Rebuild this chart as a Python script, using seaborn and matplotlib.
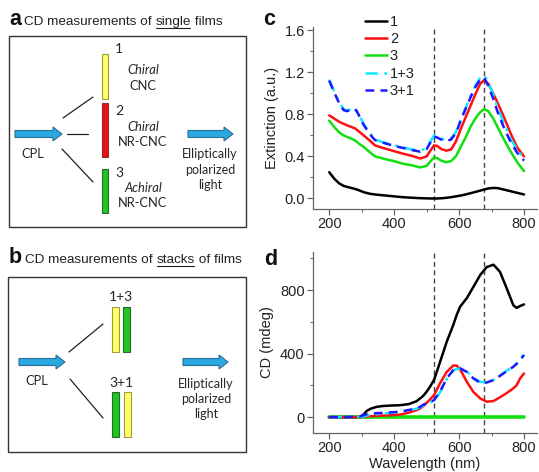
import numpy as np
import pandas as pd
import matplotlib
matplotlib.use("Agg")
import matplotlib.pyplot as plt
import seaborn as sns
from matplotlib.patches import Rectangle, FancyArrow
from matplotlib.ticker import MultipleLocator

# ---------------- data ----------------
c_wl = [200, 215, 230, 244, 255, 268, 280, 290, 306, 325, 341, 360, 377, 400, 428, 455, 480, 500, 515,
        523, 532, 545, 560, 575, 590, 605, 620, 635, 650, 665, 677, 690, 705, 720, 740, 760, 780, 800]
c_1 = [0.25, 0.19, 0.145, 0.12, 0.11, 0.10, 0.09, 0.08, 0.06, 0.045, 0.038, 0.032, 0.027, 0.02, 0.012,
       0.007, 0.003, 0.001, 0.0, 0.0, 0.0, 0.002, 0.006, 0.012, 0.02, 0.028, 0.038, 0.05, 0.062, 0.075,
       0.085, 0.095, 0.1, 0.098, 0.083, 0.068, 0.053, 0.038]
c_2 = [0.79, 0.76, 0.73, 0.71, 0.695, 0.68, 0.665, 0.64, 0.60, 0.55, 0.505, 0.485, 0.47, 0.45, 0.425,
       0.405, 0.38, 0.40, 0.47, 0.505, 0.50, 0.47, 0.455, 0.465, 0.54, 0.66, 0.77, 0.88, 0.99, 1.09,
       1.125, 1.09, 1.0, 0.90, 0.76, 0.61, 0.48, 0.40]
c_3 = [0.74, 0.68, 0.63, 0.60, 0.585, 0.57, 0.55, 0.525, 0.49, 0.44, 0.40, 0.385, 0.37, 0.355, 0.33,
       0.315, 0.295, 0.31, 0.365, 0.39, 0.385, 0.36, 0.345, 0.355, 0.40, 0.49, 0.58, 0.68, 0.76, 0.82,
       0.85, 0.83, 0.76, 0.67, 0.55, 0.44, 0.34, 0.26]
c_13 = [1.13, 1.02, 0.92, 0.85, 0.835, 0.85, 0.855, 0.81, 0.71, 0.62, 0.56, 0.54, 0.525, 0.505, 0.485,
        0.465, 0.45, 0.48, 0.56, 0.60, 0.595, 0.57, 0.555, 0.57, 0.63, 0.75, 0.86, 0.97, 1.07, 1.15,
        1.17, 1.11, 0.99, 0.85, 0.70, 0.56, 0.46, 0.38]
c_31 = [1.12, 1.01, 0.91, 0.84, 0.83, 0.845, 0.85, 0.80, 0.70, 0.61, 0.555, 0.535, 0.52, 0.50, 0.48,
        0.46, 0.445, 0.47, 0.55, 0.585, 0.58, 0.56, 0.545, 0.56, 0.62, 0.74, 0.85, 0.96, 1.06, 1.13,
        1.15, 1.07, 0.95, 0.81, 0.66, 0.53, 0.43, 0.36]

d_wl = [200, 250, 280, 295, 305, 316, 330, 347, 366, 390, 418, 445, 469, 480, 490, 500, 510, 523, 541,
        562, 582, 592, 603, 624, 644, 665, 685, 706, 726, 747, 767, 777, 788, 800]
d_1 = [0, 0, 0, 0, 15, 40, 55, 65, 70, 73, 75, 82, 100, 118, 135, 160, 190, 235, 345, 475, 580, 640,
       695, 750, 820, 895, 945, 960, 915, 810, 705, 688, 700, 710]
d_2 = [0, 0, 0, 0, 2, 4, 6, 8, 10, 12, 16, 28, 44, 55, 70, 90, 110, 139, 212, 285, 325, 325, 302, 222,
       159, 118, 97, 101, 125, 152, 181, 200, 244, 275]
d_3 = [0] * len(d_wl)
d_13 = [0, 0, 0, 0, 5, 10, 14, 18, 22, 27, 32, 42, 53, 62, 72, 82, 92, 103, 155, 240, 293, 302, 306,
        287, 248, 222, 220, 235, 262, 292, 320, 338, 362, 393]
d_31 = [0, 0, 2, 5, 12, 19, 22, 25, 27, 30, 34, 45, 55, 65, 78, 88, 96, 107, 159, 244, 296, 303, 307,
        285, 244, 216, 218, 233, 260, 290, 317, 335, 359, 391]

labels = ["1", "2", "3", "1+3", "3+1"]
colors = ["#000000", "#ff1010", "#10e010", "#10e8ff", "#1a1aff"]
styles = ["-", "-", "-", (0, (5, 2.5, 1.2, 2.5)), (0, (3.5, 2.5))]
ref_lines = [523, 677]

# ---------------- figure ----------------
sns.set_theme(style="ticks")
plt.rcParams["font.family"] = ["Liberation Sans", "DejaVu Sans"]
W, H = 539, 472
fig = plt.figure(figsize=(W / 100, H / 100), dpi=100)

def rect(l, t, r, b):
    return [l / W, 1 - b / H, (r - l) / W, (b - t) / H]

ax_c = fig.add_axes(rect(313, 27, 537, 209))
ax_d = fig.add_axes(rect(313, 252, 537, 433))

def style_ax(ax):
    for s in ["top", "right"]:
        ax.spines[s].set_visible(False)
    for s in ["left", "bottom"]:
        ax.spines[s].set_color("#666666")
        ax.spines[s].set_linewidth(0.9)
    ax.tick_params(which="major", direction="out", length=4, width=0.9, color="#666666",
                   labelsize=10.5, labelcolor="#222222", pad=2)
    ax.tick_params(which="minor", direction="out", length=2, width=0.8, color="#666666")
    ax.set_xlim(150, 840)
    ax.xaxis.set_major_locator(MultipleLocator(200))
    ax.xaxis.set_minor_locator(MultipleLocator(100))
    for v in ref_lines:
        ax.axvline(v, color="#444444", lw=1.0, ls=(0, (3.5, 2.5)), zorder=1)

series_c = [c_1, c_2, c_3, c_13, c_31]
series_d = [d_1, d_2, d_3, d_13, d_31]
for lab, col, ls, yc, yd in zip(labels, colors, styles, series_c, series_d):
    sns.lineplot(x=c_wl, y=yc, ax=ax_c, color=col, linestyle=ls, lw=1.8, label=lab, zorder=3)
    sns.lineplot(x=d_wl, y=yd, ax=ax_d, color=col, linestyle=ls,
                 lw=(2.6 if lab == "3" else 1.8), legend=False, zorder=(2 if lab == "3" else 3))

style_ax(ax_c)
style_ax(ax_d)
ax_c.set_ylim(-0.1, 1.63)
ax_c.yaxis.set_major_locator(MultipleLocator(0.4))
ax_c.yaxis.set_minor_locator(MultipleLocator(0.2))
ax_c.set_yticks([0.0, 0.4, 0.8, 1.2, 1.6])
ax_c.set_yticklabels(["0.0", "0.4", "0.8", "1.2", "1.6"])
ax_d.set_ylim(-100, 1040)
ax_d.yaxis.set_major_locator(MultipleLocator(400))
ax_d.yaxis.set_minor_locator(MultipleLocator(200))
ax_c.set_ylabel("Extinction (a.u.)", fontsize=10.5, color="#222222", labelpad=4)
ax_d.set_ylabel("CD (mdeg)", fontsize=10.5, color="#222222", labelpad=4)
ax_d.set_xlabel("Wavelength (nm)", fontsize=10.5, color="#222222", labelpad=1)
ax_c.set_xlabel("")

leg = ax_c.legend(loc="upper left", bbox_to_anchor=(365 / W, 1 - 15 / H), bbox_transform=fig.transFigure,
                  frameon=False, fontsize=10.5, handlelength=1.5, handletextpad=0.2,
                  labelspacing=0.22, borderpad=0, borderaxespad=0)
for t in leg.get_texts():
    t.set_color("#222222")

# ---------------- schematic (pixel coordinates) ----------------
ax_s = fig.add_axes([0, 0, 1, 1], zorder=-1)
ax_s.set_xlim(0, W)
ax_s.set_ylim(H, 0)
ax_s.axis("off")

SF = ["Lato", "DejaVu Sans"]
TC = "#262626"
fig.canvas.draw()
renderer = fig.canvas.get_renderer()

def title(x, y, letter, parts):
    t = ax_s.text(x, y, letter, fontsize=15.5, weight="bold", va="baseline", ha="left", color="#111111")
    bb = t.get_window_extent(renderer)
    cx = bb.x1 + 3
    for txt, ul in parts:
        tt = ax_s.text(cx, y, txt, fontsize=9.7, va="baseline", ha="left", color="#222222")
        b2 = tt.get_window_extent(renderer)
        if ul:
            ax_s.plot([b2.x0 + 0.5, b2.x1 - 0.5], [y + 2.5, y + 2.5], color="#222222", lw=0.8)
        cx = b2.x1

# letters for panels c, d
ax_s.text(263, 25, "c", fontsize=15.5, weight="bold", va="baseline", ha="left", color="#111111")
ax_s.text(264, 265, "d", fontsize=15.5, weight="bold", va="baseline", ha="left", color="#111111")

title(9, 25, "a", [("CD measurements of ", False), ("single", True), (" films", False)])
title(9, 263, "b", [("CD measurements of ", False), ("stacks", True), (" of films", False)])

# boxes
ax_s.add_patch(Rectangle((9, 36), 237, 191, fill=False, ec="#333333", lw=1.0))
ax_s.add_patch(Rectangle((8, 277), 238, 175, fill=False, ec="#333333", lw=1.0))

def arrow(x0, x1, y):
    ax_s.add_patch(FancyArrow(x0, y, x1 - x0, 0, width=7, head_width=14, head_length=9,
                              length_includes_head=True, fc="#2aa8e2", ec="#2a6f9a", lw=0.8))

def seg(p, q):
    ax_s.plot([p[0], q[0]], [p[1], q[1]], color="#222222", lw=0.9)

def bar(x, y, w, h, fc, ec):
    ax_s.add_patch(Rectangle((x, y), w, h, fc=fc, ec=ec, lw=0.8))

YEL = ("#ffff66", "#9c9c40")
RED = ("#ee1010", "#8a3030")
GRN = ("#1ec81e", "#2a6a2a")

# panel a
arrow(15, 62, 134)
arrow(188, 233, 134)
seg((63, 118), (93, 97))
seg((67, 134), (88, 134))
seg((62, 149), (93, 182))
bar(102, 54, 6, 45, *YEL)
bar(102, 103, 6, 54, *RED)
bar(102, 169, 6, 44, *GRN)

def stext(x, y, s, size=9.0, style="normal", ha="center"):
    ax_s.text(x, y, s, fontsize=size, style=style, ha=ha, va="center", color=TC, family=SF)

stext(33, 154, "CPL", size=9.3)
stext(115, 49, "1", size=10, ha="left")
stext(143, 70, "Chiral", style="italic", size=9.3)
stext(143, 86, "CNC", size=9.3)
stext(115, 111, "2", size=10, ha="left")
stext(143, 127, "Chiral", style="italic", size=9.3)
stext(143, 142, "NR-CNC", size=9.3)
stext(115, 173, "3", size=10, ha="left")
stext(143, 188, "Achiral", style="italic", size=9.3)
stext(143, 203, "NR-CNC", size=9.3)
stext(210, 154, "Elliptically")
stext(210, 170, "polarized")
stext(210, 185, "light")

# panel b
arrow(19, 65, 362)
arrow(183, 228, 362)
seg((69, 352), (103, 324))
seg((70, 379), (103, 418))
bar(112, 307, 7, 45, *YEL)
bar(123, 307, 7, 45, *GRN)
bar(112, 392, 7, 45, *GRN)
bar(124, 392, 7, 45, *YEL)
stext(121, 297, "1+3", size=10)
stext(121, 383, "3+1", size=10)
stext(37, 381, "CPL", size=9.3)
stext(206, 384, "Elliptically")
stext(206, 399, "polarized")
stext(206, 414, "light")

fig.savefig("out.png", dpi=100)
